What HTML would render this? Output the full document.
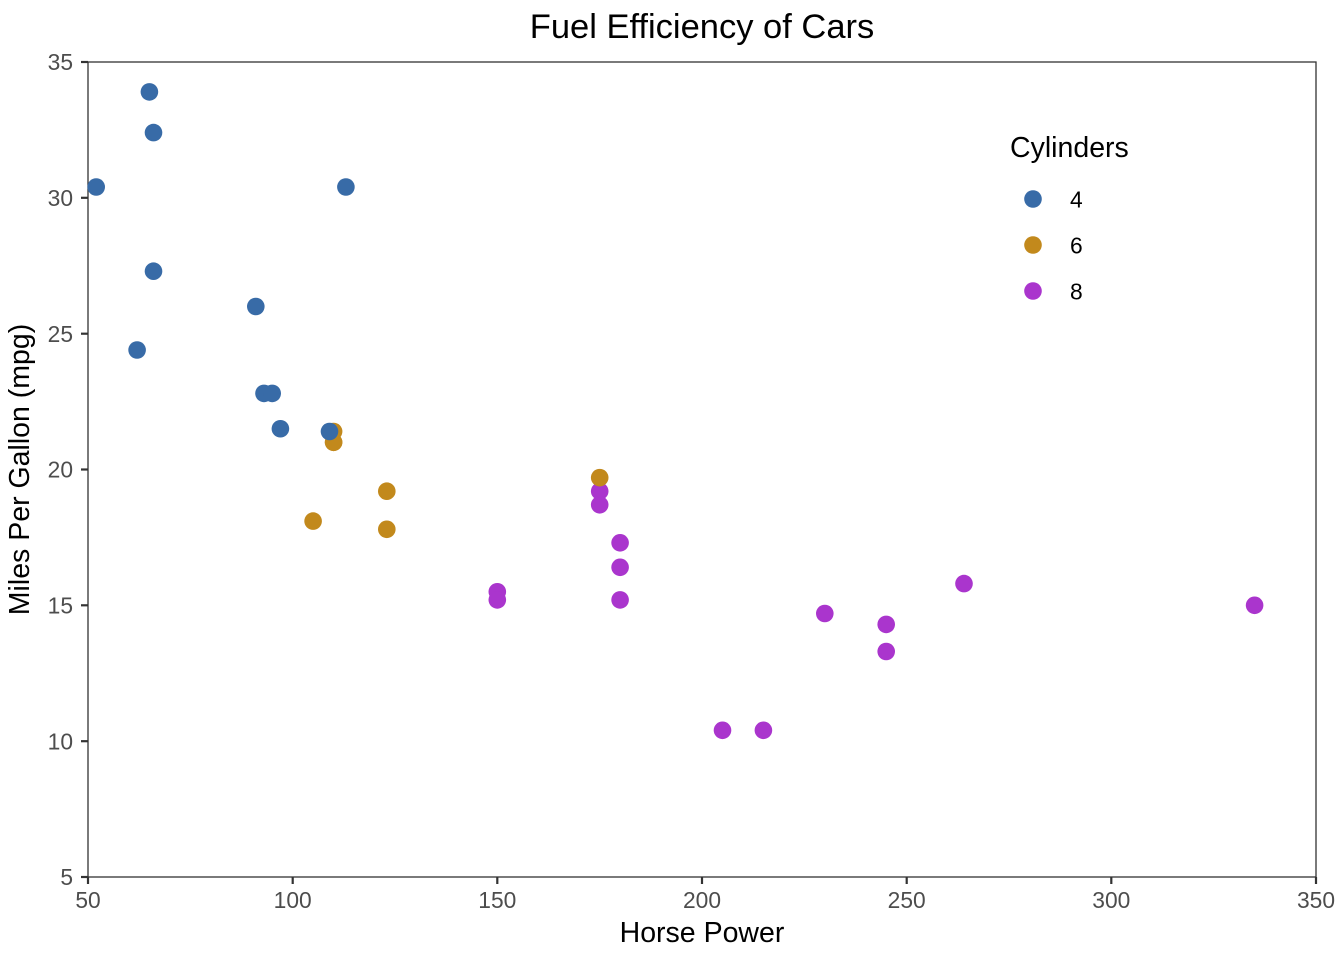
<!DOCTYPE html>
<html><head><meta charset="utf-8"><style>
html,body{margin:0;padding:0;background:#fff;}
svg{display:block;font-family:"Liberation Sans",Arial,sans-serif;}
</style></head><body>
<svg width="1344" height="960" viewBox="0 0 1344 960" xmlns="http://www.w3.org/2000/svg">
<rect width="1344" height="960" fill="#fff"/>
<text x="702" y="38" font-size="34.5" text-anchor="middle" fill="#000">Fuel Efficiency of Cars</text>
<g>
<rect x="88" y="62" width="1228" height="815" fill="none" stroke="#333" stroke-width="1.3"/>
</g>
<g stroke="#333" stroke-width="2.2">
<line x1="81" y1="62" x2="88" y2="62"/>
<line x1="81" y1="197.8" x2="88" y2="197.8"/>
<line x1="81" y1="333.7" x2="88" y2="333.7"/>
<line x1="81" y1="469.5" x2="88" y2="469.5"/>
<line x1="81" y1="605.3" x2="88" y2="605.3"/>
<line x1="81" y1="741.2" x2="88" y2="741.2"/>
<line x1="81" y1="877" x2="88" y2="877"/>
<line x1="88" y1="877" x2="88" y2="884"/>
<line x1="292.7" y1="877" x2="292.7" y2="884"/>
<line x1="497.3" y1="877" x2="497.3" y2="884"/>
<line x1="702" y1="877" x2="702" y2="884"/>
<line x1="906.7" y1="877" x2="906.7" y2="884"/>
<line x1="1111.3" y1="877" x2="1111.3" y2="884"/>
<line x1="1316" y1="877" x2="1316" y2="884"/>
</g>
<g font-size="22.8" fill="#4d4d4d" text-anchor="end">
<text x="73" y="70.2">35</text>
<text x="73" y="206">30</text>
<text x="73" y="342">25</text>
<text x="73" y="477.7">20</text>
<text x="73" y="613.5">15</text>
<text x="73" y="749.4">10</text>
<text x="73" y="885.2">5</text>
</g>
<g font-size="22.8" fill="#4d4d4d" text-anchor="middle">
<text x="88" y="908">50</text>
<text x="292.7" y="908">100</text>
<text x="497.3" y="908">150</text>
<text x="702" y="908">200</text>
<text x="906.7" y="908">250</text>
<text x="1111.3" y="908">300</text>
<text x="1316" y="908">350</text>
</g>
<text x="702" y="942" font-size="28.5" text-anchor="middle" fill="#000">Horse Power</text>
<text transform="translate(29,469.5) rotate(-90)" font-size="28.5" text-anchor="middle" fill="#000">Miles Per Gallon (mpg)</text>
<g>
<circle cx="333.6" cy="442.3" r="8.8" fill="#C2891C"/>
<circle cx="333.6" cy="442.3" r="8.8" fill="#C2891C"/>
<circle cx="264.0" cy="393.4" r="8.8" fill="#386BA7"/>
<circle cx="333.6" cy="431.5" r="8.8" fill="#C2891C"/>
<circle cx="599.7" cy="504.8" r="8.8" fill="#AA35CD"/>
<circle cx="313.1" cy="521.1" r="8.8" fill="#C2891C"/>
<circle cx="886.2" cy="624.4" r="8.8" fill="#AA35CD"/>
<circle cx="137.1" cy="350.0" r="8.8" fill="#386BA7"/>
<circle cx="272.2" cy="393.4" r="8.8" fill="#386BA7"/>
<circle cx="386.8" cy="491.2" r="8.8" fill="#C2891C"/>
<circle cx="386.8" cy="529.3" r="8.8" fill="#C2891C"/>
<circle cx="620.1" cy="567.3" r="8.8" fill="#AA35CD"/>
<circle cx="620.1" cy="542.8" r="8.8" fill="#AA35CD"/>
<circle cx="620.1" cy="599.9" r="8.8" fill="#AA35CD"/>
<circle cx="722.5" cy="730.3" r="8.8" fill="#AA35CD"/>
<circle cx="763.4" cy="730.3" r="8.8" fill="#AA35CD"/>
<circle cx="824.8" cy="613.5" r="8.8" fill="#AA35CD"/>
<circle cx="153.5" cy="132.6" r="8.8" fill="#386BA7"/>
<circle cx="96.2" cy="187.0" r="8.8" fill="#386BA7"/>
<circle cx="149.4" cy="91.9" r="8.8" fill="#386BA7"/>
<circle cx="280.4" cy="428.75" r="8.8" fill="#386BA7"/>
<circle cx="497.3" cy="591.75" r="8.8" fill="#AA35CD"/>
<circle cx="497.3" cy="599.9" r="8.8" fill="#AA35CD"/>
<circle cx="886.2" cy="651.5" r="8.8" fill="#AA35CD"/>
<circle cx="599.7" cy="491.2" r="8.8" fill="#AA35CD"/>
<circle cx="153.5" cy="271.2" r="8.8" fill="#386BA7"/>
<circle cx="255.8" cy="306.5" r="8.8" fill="#386BA7"/>
<circle cx="345.9" cy="187.0" r="8.8" fill="#386BA7"/>
<circle cx="964.0" cy="583.6" r="8.8" fill="#AA35CD"/>
<circle cx="599.7" cy="477.65" r="8.8" fill="#C2891C"/>
<circle cx="1254.6" cy="605.3" r="8.8" fill="#AA35CD"/>
<circle cx="329.5" cy="431.5" r="8.8" fill="#386BA7"/>
</g>
<text x="1010" y="157" font-size="28.5" fill="#000">Cylinders</text>
<circle cx="1033" cy="199" r="8.8" fill="#386BA7"/>
<circle cx="1033" cy="245" r="8.8" fill="#C2891C"/>
<circle cx="1033" cy="291" r="8.8" fill="#AA35CD"/>
<g font-size="22.8" fill="#000">
<text x="1070" y="207.5">4</text>
<text x="1070" y="253.5">6</text>
<text x="1070" y="299.5">8</text>
</g>
</svg>
</body></html>
